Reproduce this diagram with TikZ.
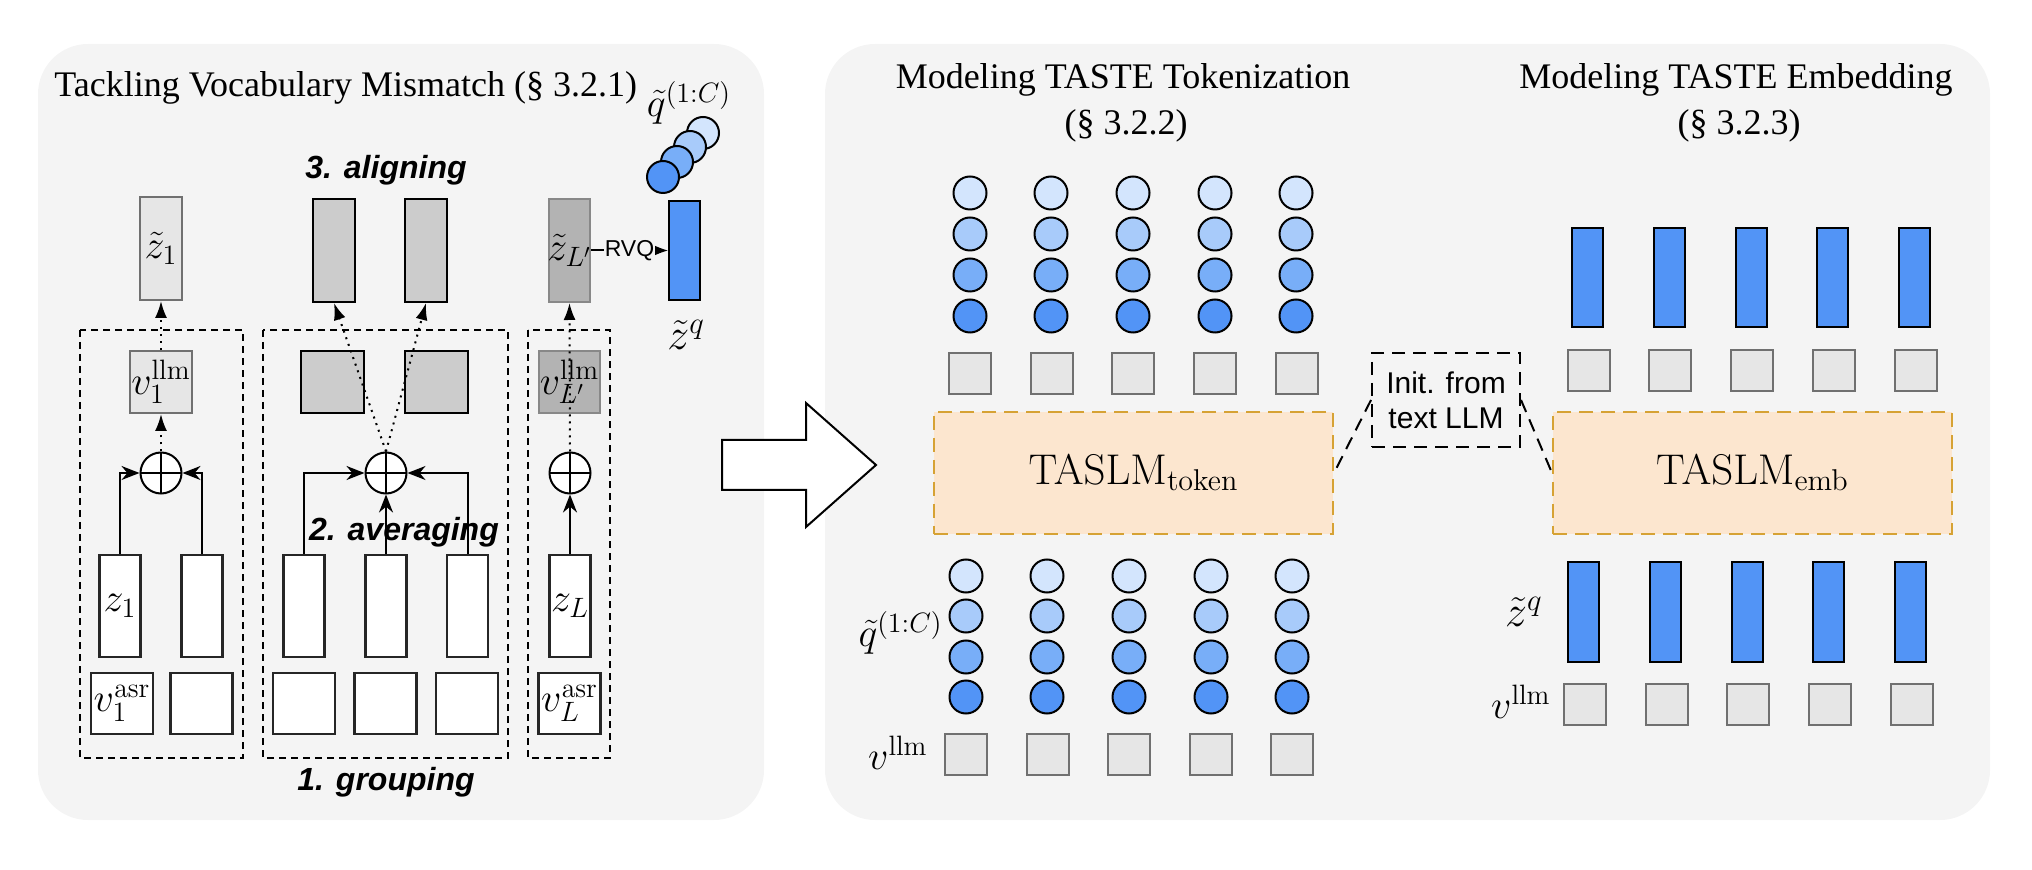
\RequirePackage{fix-cm}
\documentclass[tikz,border=0pt]{standalone}
\usepackage[no-math]{fontspec}
\newfontfamily\timesf{Liberation Serif}
\newfontfamily\arialf{Liberation Sans}
\usetikzlibrary{arrows.meta}
\definecolor{panelbg}{RGB}{244,244,244}
\definecolor{lgfill}{RGB}{230,230,230}
\definecolor{lgdraw}{RGB}{112,112,112}
\definecolor{mgfill}{RGB}{204,204,204}
\definecolor{dgfill}{RGB}{179,179,179}
\definecolor{dgdraw}{RGB}{136,136,136}
\definecolor{qa}{RGB}{211,229,253}
\definecolor{qb}{RGB}{168,203,250}
\definecolor{qcc}{RGB}{120,174,248}
\definecolor{qd}{RGB}{82,148,246}
\definecolor{tasfill}{RGB}{252,230,207}
\definecolor{tasdraw}{RGB}{214,162,52}
\tikzset{
  panel/.style={fill=panelbg, rounded corners=25pt},
  lgbox/.style={draw=lgdraw, fill=lgfill, line width=1pt, inner sep=0pt},
  mgbox/.style={draw=black, fill=mgfill, line width=1pt, inner sep=0pt},
  dgbox/.style={draw=dgdraw, fill=dgfill, line width=1pt, inner sep=0pt},
  wbox/.style={draw=black!85, fill=white, line width=1.1pt, inner sep=0pt},
  wz/.style={wbox, minimum width=20.5pt, minimum height=51pt},
  wa/.style={wbox, minimum width=31pt, minimum height=30.5pt},
  bbar/.style={draw=black, fill=qd, line width=1pt, inner sep=0pt, minimum width=15.5pt, minimum height=49.5pt},
  sq/.style={lgbox, minimum width=21pt, minimum height=20.5pt},
  qdot/.style={circle, draw=black, line width=1pt, minimum size=16.5pt, inner sep=0pt},
  grp/.style={draw=black, line width=0.9pt, dash pattern=on 3.5pt off 2.5pt},
  mathlbl/.style={font=\fontsize{20}{24}\selectfont, inner sep=0pt},
  zqlbl/.style={font=\fontsize{22}{26}\selectfont, inner sep=0pt},
  steplbl/.style={font=\arialf\bfseries\itshape\fontsize{16}{19}\selectfont, inner sep=0pt},
  ttl/.style={font=\timesf\fontsize{18}{22}\selectfont, inner sep=0pt},
  oplusnode/.style={circle, draw=black, fill=white, line width=1pt, minimum size=20.5pt, inner sep=0pt,
    path picture={\draw[line width=1pt] (path picture bounding box.north) -- (path picture bounding box.south)
      (path picture bounding box.west) -- (path picture bounding box.east);}},
  dotarr/.style={line width=1pt, dash pattern=on 1pt off 2.5pt, -{Latex[length=8.5pt,width=6pt]}},
  solarr/.style={line width=1pt, -{Stealth[length=9pt,width=7pt]}},
  tasbox/.style={draw=tasdraw, fill=tasfill, line width=1pt, dash pattern=on 7pt off 4pt,
    minimum width=199.5pt, minimum height=61pt, inner sep=0pt, font=\fontsize{21.5}{26}\selectfont},
  initdash/.style={draw=black, line width=1pt, dash pattern=on 6.5pt off 4pt},
}
\begin{document}
\begin{tikzpicture}[x=0.5pt, y=-0.5pt]
\useasboundingbox (0,0) rectangle (2032,870);
% panels
\fill[panel] (38,44) rectangle (764,820);
\fill[panel] (825,44) rectangle (1990,820);

% ---------------- left panel ----------------
\node[ttl, anchor=base west] (t1) at (54,97) {Tackling Vocabulary Mismatch (§ 3.2.1)};

% group boxes
\draw[grp] (80,330) rectangle (243,758);
\draw[grp] (263,330) rectangle (508,758);
\draw[grp] (528,330) rectangle (610,758);

% top row
\node[lgbox, minimum width=21pt, minimum height=51.5pt] (zt1) at (161,248.5) {};
\node[mathlbl] at (zt1) {$\tilde z_1$};
\node[mgbox, minimum width=21pt, minimum height=51.5pt] (al1) at (334,250.5) {};
\node[mgbox, minimum width=21pt, minimum height=51.5pt] (al2) at (426,250.5) {};
\node[dgbox, minimum width=20.5pt, minimum height=51.5pt] (ztL) at (569.5,250.5) {};
\node[mathlbl] at (ztL) {$\tilde z_{L'}$};
\node[bbar] (zq) at (684.5,250.5) {};

% middle row
\node[lgbox, minimum size=31pt] (v1) at (161,382) {};
\node[mathlbl] at (v1) {$v_1^{\mathrm{llm}}$};
\node[mgbox, minimum width=31.5pt, minimum height=31pt] (m1) at (332.5,382) {};
\node[mgbox, minimum width=31.5pt, minimum height=31pt] (m2) at (436.5,382) {};
\node[dgbox, minimum width=30.5pt, minimum height=31pt] (vL) at (569.5,382) {};
\node[mathlbl] at (vL) {$v_{L'}^{\mathrm{llm}}$};

% oplus
\node[oplusnode] (o1) at (161,473) {};
\node[oplusnode] (o2) at (386,473) {};
\node[oplusnode] (o3) at (570,473) {};

% z boxes
\node[wz] (za) at (120,606) {};
\node[mathlbl] at (za) {$z_1$};
\node[wz] (zb) at (202,606) {};
\node[wz] (zc) at (304,606) {};
\node[wz] (zd) at (386,606) {};
\node[wz] (ze) at (467.5,606) {};
\node[wz] (zf) at (570,606) {};
\node[mathlbl] at (zf) {$z_L$};

% asr boxes
\node[wa] (aa) at (122,703.5) {};
\node[mathlbl] at (aa) {$v_1^{\mathrm{asr}}$};
\node[wa] (ab) at (201.5,703.5) {};
\node[wa] (ac) at (304,703.5) {};
\node[wa] (ad) at (385.5,703.5) {};
\node[wa] (ae) at (467,703.5) {};
\node[wa] (af) at (569.5,703.5) {};
\node[mathlbl] at (af) {$v_L^{\mathrm{asr}}$};

% solid arrows into oplus
\draw[solarr] (za.north) |- (o1.west);
\draw[solarr] (zb.north) |- (o1.east);
\draw[solarr] (zc.north) |- (o2.west);
\draw[solarr] (zd.north) -- (o2.south);
\draw[solarr] (ze.north) |- (o2.east);
\draw[solarr] (zf.north) -- (o3.south);

% dotted arrows
\draw[dotarr] (o1.north) -- (v1.south);
\draw[dotarr] (v1.north) -- (zt1.south);
\draw[dotarr] (o2.north) -- (al1.south);
\draw[dotarr] (o2.north) -- (al2.south);
\draw[dotarr] (o3.north) -- (ztL.south);

% RVQ
\draw[line width=1pt, -{Latex[length=9pt,width=7.5pt]}] (ztL.east) -- node[fill=panelbg, inner sep=0.5pt, font=\arialf\fontsize{11.5}{13}\selectfont] (rvq) {RVQ} (zq.west);

% codebook circles
\node[qdot, fill=qa, minimum size=16pt] (c4) at (703,133) {};
\node[qdot, fill=qb, minimum size=16pt] (c3) at (690,147) {};
\node[qdot, fill=qcc, minimum size=16pt] (c2) at (677,162) {};
\node[qdot, fill=qd, minimum size=16pt] (c1) at (663,177) {};
\node[mathlbl] (lq) at (689,103) {$\tilde q^{(1:C)}$};
\node[zqlbl] (lzq) at (686,335) {$\tilde z^q$};

% step labels
\node[steplbl] (s3) at (386,170) {3. aligning};
\node[steplbl] (s2) at (404,532) {2. averaging};
\node[steplbl] (s1) at (386,782) {1. grouping};

% big arrow
\draw[fill=white, line width=1pt] (722,440) -- (806,440) -- (806,403) -- (876,465) -- (806,527) -- (806,490) -- (722,490) -- cycle;

% ---------------- right panel ----------------
\node[ttl, anchor=base] (t2a) at (1123,89) {Modeling TASTE Tokenization};
\node[ttl, anchor=base] (t2b) at (1126,135) {(§ 3.2.2)};
\node[ttl, anchor=base] (t3a) at (1736,89) {Modeling TASTE Embedding};
\node[ttl, anchor=base] (t3b) at (1739,135) {(§ 3.2.3)};

% tokenization: top
\foreach \x [count=\i] in {970,1051,1133,1215,1296} {
  \foreach \y/\c [count=\j] in {193/qa,234/qb,275/qcc,316/qd} {
    \node[qdot, fill=\c] (tc-\i-\j) at (\x,\y) {};
  }
}
\foreach \x [count=\i] in {970,1051.5,1133,1215,1296.5} {
  \node[sq] (ts-\i) at (\x,373.5) {};
}
\node[tasbox] (tt) at (1133.5,473) {$\mathrm{TASLM}_{\mathrm{token}}$};
% tokenization: bottom
\foreach \x [count=\i] in {966,1047,1129,1211,1292} {
  \foreach \y/\c [count=\j] in {576/qa,616/qb,657/qcc,697/qd} {
    \node[qdot, fill=\c] (bc-\i-\j) at (\x,\y) {};
  }
}
\foreach \x [count=\i] in {966,1047.5,1129,1211,1292} {
  \node[sq] (bs-\i) at (\x,754.5) {};
}
\node[mathlbl, anchor=east] (lq2) at (943,633) {$\tilde q^{(1:C)}$};
\node[mathlbl, anchor=east] (lv2) at (928,753) {$v^{\mathrm{llm}}$};

% embedding
\foreach \x [count=\i] in {1587.5,1669,1751,1832.5,1914.5} {
  \node[bbar] (eb-\i) at (\x,277.5) {};
}
\foreach \x [count=\i] in {1589,1670,1752,1834,1916} {
  \node[sq] (es-\i) at (\x,370.5) {};
}
\node[tasbox] (te) at (1752.5,473) {$\mathrm{TASLM}_{\mathrm{emb}}$};
\foreach \x [count=\i] in {1583.5,1665.5,1747,1828.5,1910.5} {
  \node[bbar] (fb-\i) at (\x,612) {};
}
\foreach \x [count=\i] in {1585,1667,1748,1830,1912} {
  \node[sq] (fs-\i) at (\x,704.5) {};
}
\node[zqlbl, anchor=east] (lzq2) at (1543,612) {$\tilde z^q$};
\node[mathlbl, anchor=east] (lv3) at (1551,702) {$v^{\mathrm{llm}}$};

% init box
\node[initdash, minimum width=74pt, minimum height=47pt, inner sep=0pt, align=center,
  font=\arialf\fontsize{15}{17.5}\selectfont] (init) at (1446,400) {Init. from\\text LLM};
\draw[initdash] (init.west) -- (tt.east);
\draw[initdash] (init.east) -- (te.west);
\end{tikzpicture}
\end{document}
